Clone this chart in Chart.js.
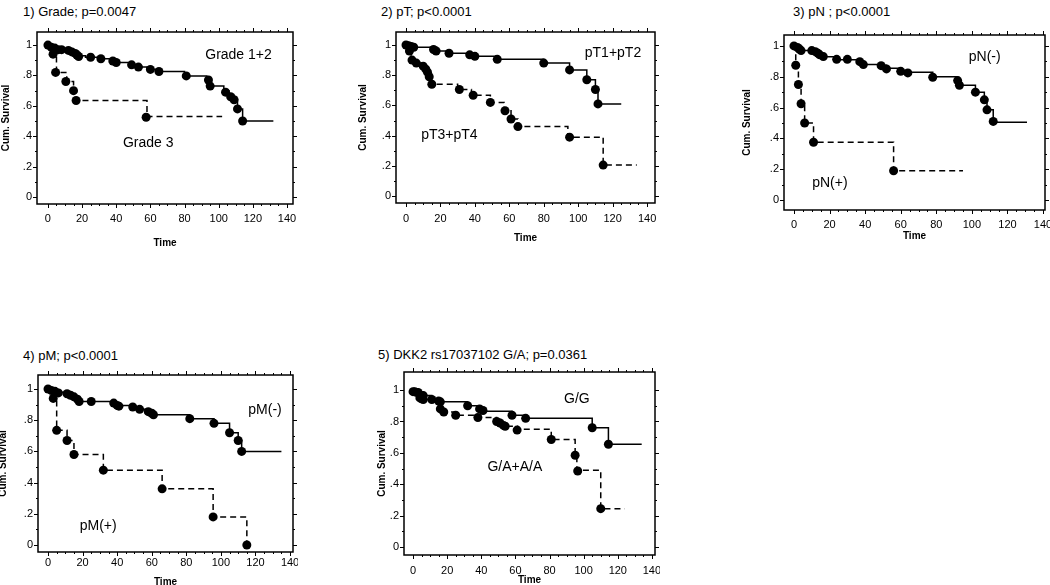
<!DOCTYPE html>
<html>
<head>
<meta charset="utf-8">
<script src="https://cdn.jsdelivr.net/npm/chart.js@4"></script>
<style>
  body { margin: 0; background: #fff; }
  #page { position: relative; width: 1050px; height: 585px; overflow: hidden; background: #fff; }
  .ttl { position: absolute; font: 13px "Liberation Sans", Arial, sans-serif; color: #000; white-space: nowrap; line-height: 14px; }
  canvas { position: absolute; }
</style>
</head>
<body>
<div id="page"></div>
<script>
// 1) Grade
const g12T = [0, 1, 3, 6, 12, 15, 17, 22, 30, 37, 40, 48, 52, 58, 64, 80, 93, 95, 103, 106, 109, 111, 114, 132]
const g12S = [1, .99, .985, .975, .96, .945, .93, .92, .91, .895, .885, .87, .855, .84, .826, .797, .77, .73, .70, .67, .64, .58, .50, .50]
const g12CensT = [0, 2, 4, 6, 8, 12, 14, 16, 17, 18, 25, 31, 38, 40, 49, 53, 60, 65, 81, 94, 95, 104, 107, 109, 111, 114]
const g12CensS = [1, .985, .98, .97, .97, .965, .955, .945, .935, .925, .92, .91, .895, .885, .87, .855, .84, .826, .797, .77, .73, .69, .66, .64, .58, .50]
const g3T = [0, 3, 5, 11, 15, 16.5, 58, 102]
const g3S = [1, .94, .82, .76, .70, .635, .53, .53]
const g3CensT = [3, 4.5, 10.5, 15, 16.5, 57.5]
const g3CensS = [.94, .82, .76, .70, .635, .525]

// 2) pT
const pt12T = [0, 2, 5, 15, 17, 25, 37, 41, 53, 80, 95, 105, 110, 111.5, 125]
const pt12S = [1, .99, .985, .97, .96, .945, .935, .925, .905, .88, .835, .77, .705, .61, .61]
const pt12CensT = [0, 1.5, 3, 4.5, 16, 17.5, 25, 37, 40, 53, 80, 95, 105, 110, 111.5]
const pt12CensS = [1, .995, .99, .985, .97, .96, .945, .935, .925, .905, .88, .835, .77, .705, .61]
const pt34T = [0, 2, 3, 6, 10, 11, 12, 13, 15, 30, 38, 49, 57, 61, 65, 94, 114.5, 134]
const pt34S = [1, .96, .90, .88, .86, .84, .82, .79, .74, .705, .667, .62, .565, .51, .46, .39, .205, .205]
const pt34CensT = [2, 3.5, 6, 10, 11.5, 12.5, 13.5, 15, 31, 39, 49, 57.5, 61, 65, 95, 114.5]
const pt34CensS = [.96, .90, .88, .86, .84, .82, .79, .74, .705, .667, .62, .565, .51, .46, .39, .205]

// 3) pN
const pnNegT = [0, 3, 4, 12, 14, 15, 16, 24, 37, 39, 49, 52, 60, 64, 78, 92, 93, 102, 107, 108.5, 112, 131]
const pnNegS = [1, .98, .97, .96, .95, .94, .93, .91, .90, .88, .875, .855, .84, .83, .80, .775, .745, .70, .65, .585, .505, .505]
const pnNegCensT = [0, 2, 3, 4, 10, 12, 13.5, 14.5, 16.5, 24, 30, 37, 39, 49, 52, 60, 64, 78, 92, 93, 102, 107, 108.5, 112]
const pnNegCensS = [1, .99, .98, .97, .97, .963, .952, .942, .931, .913, .913, .898, .879, .872, .851, .835, .825, .797, .775, .745, .70, .65, .585, .51]
const pnPosT = [0, 1, 2.5, 4, 6, 11, 56, 95]
const pnPosS = [1, .875, .76, .625, .50, .375, .19, .19]
const pnPosCensT = [1, 2.5, 4, 6, 11, 56]
const pnPosCensS = [.875, .75, .625, .50, .375, .19]

// 4) pM
const pmNegT = [0, 2, 6, 11, 13, 15, 17, 18, 38, 40, 49, 53, 58, 60, 61, 82, 96, 105, 110, 112, 135]
const pmNegS = [1, .99, .98, .97, .96, .95, .935, .92, .91, .895, .885, .87, .855, .845, .835, .81, .78, .72, .67, .60, .60]
const pmNegCensT = [0, 2, 4, 6, 11, 13, 15, 17, 18, 25, 38, 40, 41, 49, 53, 58, 60, 61, 82, 96, 105, 110, 112]
const pmNegCensS = [1, .99, .985, .975, .97, .96, .95, .935, .92, .92, .91, .895, .89, .885, .87, .855, .845, .835, .81, .78, .72, .67, .60]
const pmPosT = [0, 3, 5, 11, 15, 32, 66, 95.5, 115]
const pmPosS = [1, .94, .735, .67, .58, .48, .36, .18, 0]
const pmPosCensT = [3, 5, 11, 15, 32, 66, 95.5, 115]
const pmPosCensS = [.94, .735, .67, .58, .48, .36, .18, 0]

// 5) DKK2 rs17037102
const ggT = [0, 2, 5, 6, 11, 15, 16, 32, 39, 41, 58, 66, 105, 114.5, 134]
const ggS = [1, .99, .97, .965, .94, .93, .925, .90, .88, .865, .84, .82, .76, .655, .655]
const ggCensT = [0, 1, 2, 3, 5, 6, 11, 15, 16, 32, 39, 41, 58, 66, 105, 114.5]
const ggCensS = [.99, .99, .985, .985, .965, .965, .94, .93, .925, .90, .88, .87, .84, .82, .76, .655]
const gaT = [0, 4, 5, 6, 16, 18, 25, 38, 49, 51, 53, 54, 61, 81, 95, 96, 110, 124]
const gaS = [1, .95, .945, .94, .88, .86, .84, .825, .80, .79, .775, .77, .75, .685, .585, .49, .245, .245]
const gaCensT = [4, 5, 6, 16, 18, 25, 38, 49, 51, 53, 54, 61, 81, 95, 96.5, 110]
const gaCensS = [.95, .945, .94, .88, .86, .84, .825, .80, .79, .775, .77, .745, .685, .585, .485, .245]

const xTicks = [0, 20, 40, 60, 80, 100, 120, 140]
const yTicks = [0, .2, .4, .6, .8, 1]

const FONT = '"Liberation Sans", Arial, sans-serif'

// panels: box = [left, top, right, bottom] of plot frame in page pixels
const panels = [
  {title: '1) Grade; p=0.0047', tx: 23, ty: 5, box: [37, 32, 293, 204], cl: 0, timeY: 243, tickPad: 8,
   xr: [-6.4, 143.5], yr: [-0.046, 1.086],
   curves: [[g12T, g12S, g12CensT, g12CensS, false], [g3T, g3S, g3CensT, g3CensS, true]],
   labels: [['Grade 1+2', 111.6, .936], ['Grade 3', 58.7, .352]]},
  {title: '2) pT; p<0.0001', tx: 381, ty: 5, box: [396, 32, 655, 203], cl: 357, timeY: 238, tickPad: 9,
   xr: [-5.8, 144.6], yr: [-0.046, 1.086],
   curves: [[pt12T, pt12S, pt12CensT, pt12CensS, false], [pt34T, pt34S, pt34CensT, pt34CensS, true]],
   labels: [['pT1+pT2', 120.2, .947], ['pT3+pT4', 25.2, .40]]},
  {title: '3) pN ; p<0.0001', tx: 793, ty: 5, box: [784, 35, 1045, 210], cl: 741, timeY: 236, tickPad: 8,
   xr: [-5.6, 141.1], yr: [-0.065, 1.071],
   curves: [[pnNegT, pnNegS, pnNegCensT, pnNegCensS, false], [pnPosT, pnPosS, pnPosCensT, pnPosCensS, true]],
   labels: [['pN(-)', 107.2, .93], ['pN(+)', 20.2, .108]]},
  {title: '4) pM; p<0.0001', tx: 23, ty: 349, box: [38, 375, 293, 552], cl: -3, timeY: 582, tickPad: 4,
   xr: [-5.8, 141.7], yr: [-0.045, 1.09],
   curves: [[pmNegT, pmNegS, pmNegCensT, pmNegCensS, false], [pmPosT, pmPosS, pmPosCensT, pmPosCensS, true]],
   labels: [['pM(-)', 125.5, .867], ['pM(+)', 29, .118]]},
  {title: '5) DKK2 rs17037102 G/A; p=0.0361', tx: 378, ty: 348, box: [404, 372, 655, 555], cl: 376, timeY: 580, tickPad: 9,
   xr: [-5.3, 141.8], yr: [-0.05, 1.115],
   curves: [[ggT, ggS, ggCensT, ggCensS, false], [gaT, gaS, gaCensT, gaCensS, true]],
   labels: [['G/G', 96, .94], ['G/A+A/A', 59.7, .51]]}
]

// frame with small ticks on all four sides
const framePlugin = {
  id: 'frame',
  afterDraw(chart) {
    const {ctx, chartArea: a, scales: {x, y}} = chart
    ctx.save()
    ctx.strokeStyle = '#000'
    ctx.lineWidth = 1.5
    ctx.strokeRect(a.left, a.top, a.right - a.left, a.bottom - a.top)
    ctx.lineWidth = 1
    ctx.beginPath()
    for (let v = 0; v <= 140; v += 5) {
      const px = Math.round(x.getPixelForValue(v)) + 0.5
      const len = v % 20 === 0 ? 4 : 2
      ctx.moveTo(px, a.bottom); ctx.lineTo(px, a.bottom + len)
      ctx.moveTo(px, a.top); ctx.lineTo(px, a.top - len)
    }
    for (let i = 0; i <= 10; i++) {
      const py = Math.round(y.getPixelForValue(i / 10)) + 0.5
      const len = i % 2 === 0 ? 4 : 2
      ctx.moveTo(a.left, py); ctx.lineTo(a.left - len, py)
      ctx.moveTo(a.right, py); ctx.lineTo(a.right + len, py)
    }
    ctx.stroke()
    ctx.restore()
  },
  afterDatasetsDraw(chart) {
    const {ctx, scales: {x, y}} = chart
    ctx.save()
    ctx.fillStyle = '#000'
    ctx.font = '14px ' + FONT
    ctx.textAlign = 'center'
    ctx.textBaseline = 'middle'
    chart.config.options.plugins.frame.labels.forEach(l => {
      ctx.fillText(l[0], x.getPixelForValue(l[1]), y.getPixelForValue(l[2]))
    })
    ctx.restore()
  }
}

const page = document.getElementById('page')

panels.forEach((p, idx) => {
  const [bl, bt, br, bb] = p.box
  const title = document.createElement('div')
  title.className = 'ttl'
  title.style.left = p.tx + 'px'
  title.style.top = p.ty + 'px'
  title.textContent = p.title
  page.appendChild(title)

  const top = bt - 5
  const w = br + 5 - p.cl
  const h = p.timeY + 6 - top
  const cv = document.createElement('canvas')
  cv.width = w
  cv.height = h
  cv.style.left = p.cl + 'px'
  cv.style.top = top + 'px'
  cv.style.width = w + 'px'
  cv.style.height = h + 'px'
  page.appendChild(cv)

  const datasets = []
  p.curves.forEach(c => {
    const [ts, ss, cts, css, dashed] = c
    datasets.push({
      data: ts.map((t, i) => ({x: t, y: ss[i]})),
      stepped: true,
      borderColor: '#000',
      borderWidth: 1.5,
      borderDash: dashed ? [6, 4] : [],
      pointRadius: 0,
      fill: false
    })
    datasets.push({
      data: cts.map((t, i) => ({x: t, y: css[i]})),
      showLine: false,
      pointRadius: 4.5,
      pointHoverRadius: 4.5,
      pointBackgroundColor: '#000',
      pointBorderWidth: 0
    })
  })

  new Chart(cv, {
    type: 'line',
    data: {datasets},
    plugins: [framePlugin],
    options: {
      responsive: false,
      animation: false,
      devicePixelRatio: 1,
      layout: {padding: {top: 5, right: 5, left: 0, bottom: 0}},
      plugins: {legend: {display: false}, tooltip: {enabled: false}, frame: {labels: p.labels}},
      scales: {
        x: {
          type: 'linear', min: p.xr[0], max: p.xr[1],
          afterBuildTicks: s => { s.ticks = xTicks.map(v => ({value: v})) },
          afterFit: s => { s.height = p.timeY + 6 - bb; s.paddingLeft = 0; s.paddingRight = 0 },
          grid: {display: false, drawTicks: false},
          border: {display: false},
          ticks: {padding: p.tickPad, maxRotation: 0, autoSkip: false, color: '#000', font: {family: FONT, size: 11}},
          title: {display: true, text: 'Time', color: '#000', padding: 0, font: {family: FONT, size: 10, weight: 'bold'}}
        },
        y: {
          min: p.yr[0], max: p.yr[1],
          afterBuildTicks: s => { s.ticks = yTicks.map(v => ({value: v})) },
          afterFit: s => { s.width = bl - p.cl; s.paddingTop = 0; s.paddingBottom = 0 },
          grid: {display: false, drawTicks: false},
          border: {display: false},
          ticks: {
            padding: 5, color: '#000', font: {family: FONT, size: 11},
            callback: v => v === 0 ? '0' : v === 1 ? '1' : String(Math.round(v * 10) / 10).replace('0.', '.')
          },
          title: {display: true, text: 'Cum. Survival', color: '#000', padding: 0, font: {family: FONT, size: 10, weight: 'bold'}}
        }
      }
    }
  })
})
</script>
</body>
</html>
